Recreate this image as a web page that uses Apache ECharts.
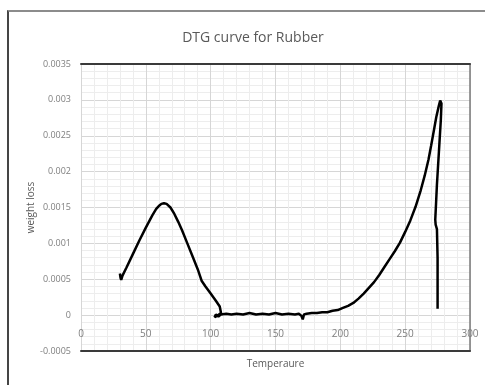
<!DOCTYPE html>
<html>
<head>
<meta charset="utf-8">
<script src="https://cdn.jsdelivr.net/npm/echarts@6/dist/echarts.min.js"></script>
<style>
  html, body { margin: 0; padding: 0; background: #fff; }
  #chart { width: 485px; height: 385px; }
  #frame {
    position: absolute; left: 7px; top: 10px; width: 520px; height: 420px;
    border-left: 2px solid #454545; border-top: 2px solid #8c8c8c;
    pointer-events: none;
  }
</style>
</head>
<body>
<div id="chart"></div>
<div id="frame"></div>
<script>
// DTG curve (temperature, weight loss)
const temperature = [
  30, 30.5, 31, 32, 35, 40, 45, 50, 55, 58, 60, 62, 63, 64, 65, 66, 67, 69,
  72, 75, 78, 82, 86, 90, 93, 96, 100, 104, 107, 108, 105, 103, 104, 106, 108,
  112, 116, 120, 125, 130, 135, 140, 145, 150, 155, 160, 165, 168, 170, 171, 172, 174,
  178, 182, 186, 190, 194, 198, 202, 206, 210, 214, 218, 222, 226, 230, 234, 238,
  242, 246, 250, 254, 258, 262, 265, 268, 270, 272, 274, 276, 277, 278,
  277.5, 276.5, 275.5, 274.5, 273.8, 273.2, 273.5, 274.5, 275, 275, 275
];
const weightLoss = [
  0.00058, 0.00052, 0.00049, 0.00055, 0.00066, 0.00085, 0.00104, 0.00122, 0.00139, 0.00148, 0.00152, 0.00155, 0.00154, 0.00156, 0.00154, 0.00155, 0.00154, 0.0015,
  0.00141, 0.0013, 0.00118, 0.001, 0.00082, 0.00064, 0.00048, 0.0004, 0.0003, 0.0002, 0.00012, 0.00003, -0.00001, -0.00003, 0.00001, -0.00002, 0.00001,
  0.00002, 0.00001, 0.00002, 0.00001, 0.00003, 0.00001, 0.00002, 0.00001, 0.00003, 0.00001, 0.00002, 0.00001, 0.00002, -0.00001, -0.00006, 0.00001, 0.00002,
  0.00003, 0.00003, 0.00004, 0.00004, 0.00006, 0.00007, 0.0001, 0.00013, 0.00017, 0.00023, 0.0003, 0.00038, 0.00046, 0.00056, 0.00067, 0.00078,
  0.00089, 0.00101, 0.00116, 0.00132, 0.00151, 0.00174, 0.00194, 0.00217, 0.00236, 0.00256, 0.00276, 0.00292, 0.00299, 0.00295,
  0.00272, 0.00242, 0.00212, 0.00182, 0.00155, 0.00133, 0.00126, 0.0012, 0.0008, 0.0004, 0.00009
];
const xTicks = { min: 0, max: 300, interval: 50 };
const yTicks = { min: -0.0005, max: 0.0035, interval: 0.0005 };

const points = temperature.map((t, i) => [t, weightLoss[i]]);

const labelColor = '#595959';
const font = 'Open Sans, sans-serif';

const chart = echarts.init(document.getElementById('chart'));
chart.setOption({
  animation: false,
  title: {
    text: 'DTG curve for Rubber',
    left: 248,
    top: 26,
    textAlign: 'center',
    textStyle: { color: labelColor, fontSize: 14, fontWeight: 'normal', fontFamily: font },
  },
  grid: { left: 81, right: 15, top: 64, bottom: 34 },
  xAxis: [
    {
      // tick labels sit inside the plot, just under the zero line (as in Excel)
      type: 'value', ...xTicks,
      axisLine: { show: false, onZero: false },
      axisTick: { show: false },
      axisLabel: { inside: true, color: '#7f7f7f', fontSize: 10, fontFamily: font, margin: 12 },
      splitLine: { lineStyle: { color: '#d6d6d6', width: 1 } },
      minorTick: { show: false, splitNumber: 5 },
      minorSplitLine: { show: true, lineStyle: { color: '#ededed', width: 1 } },
    },
    {
      type: 'value', ...xTicks, position: 'top',
      axisLine: { show: true, onZero: false, lineStyle: { color: '#3a3a3a', width: 2 } },
      axisTick: { show: false }, axisLabel: { show: false }, splitLine: { show: false },
    },
    {
      type: 'value', ...xTicks, position: 'bottom',
      name: 'Temperaure', nameLocation: 'middle', nameGap: 8, nameMoveOverlap: false,
      nameTextStyle: { color: labelColor, fontSize: 10, fontFamily: font },
      axisLine: { show: true, onZero: false, lineStyle: { color: '#3a3a3a', width: 2 } },
      axisTick: { show: false }, axisLabel: { show: false }, splitLine: { show: false },
    },
  ],
  yAxis: [
    {
      type: 'value', ...yTicks,
      name: 'weight loss', nameLocation: 'middle', nameGap: 45, nameMoveOverlap: false,
      nameTextStyle: { color: labelColor, fontSize: 10, fontFamily: font },
      axisLine: { show: true, onZero: false, lineStyle: { color: '#d6d6d6' } },
      axisTick: { show: false },
      axisLabel: { color: '#7f7f7f', fontSize: 9, fontFamily: font, margin: 10 },
      splitLine: { lineStyle: { color: '#d6d6d6', width: 1 } },
      minorTick: { show: false, splitNumber: 5 },
      minorSplitLine: { show: true, lineStyle: { color: '#ededed', width: 1 } },
    },
    {
      type: 'value', ...yTicks, position: 'right',
      axisLine: { show: true, onZero: false, lineStyle: { color: '#7a7a7a', width: 1.5 } },
      axisTick: { show: false }, axisLabel: { show: false }, splitLine: { show: false },
    },
  ],
  series: [
    {
      type: 'line',
      data: points,
      xAxisIndex: 0,
      yAxisIndex: 0,
      showSymbol: false,
      lineStyle: { color: '#000', width: 2.5 },
    },
  ],
});
</script>
</body>
</html>
